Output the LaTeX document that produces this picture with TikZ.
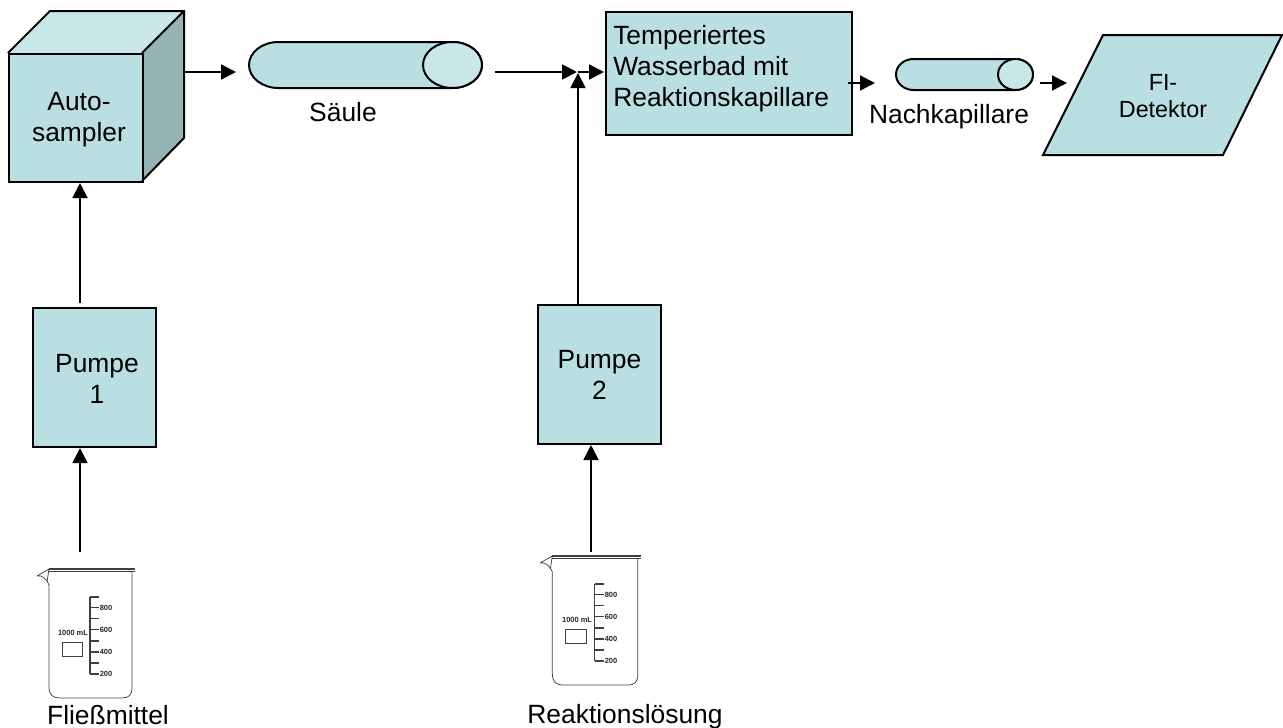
\documentclass[tikz,border=0pt]{standalone}
\usepackage{fontspec}
\setmainfont{Liberation Sans}
\usetikzlibrary{arrows.meta,shapes.geometric}
\definecolor{fillA}{HTML}{BADFE2}
\definecolor{fillL}{HTML}{C9E6E8}
\definecolor{fillD}{HTML}{95B2B5}
\tikzset{
 x=0.75pt,y=-0.75pt,
 shapeline/.style={draw=black,line width=1.5pt,line join=miter},
 flow/.style={draw=black,line width=1.4pt,-{Triangle[length=11.25pt,width=11.25pt]}},
 box/.style={shapeline,fill=fillA,inner sep=0pt},
 endcap/.style={ellipse,draw=black,line width=1.5pt,fill=fillL,inner sep=0pt},
 lbl/.style={font=\fontsize{19.8pt}{23.2pt}\selectfont,align=center,inner sep=0pt},
 lblsm/.style={font=\fontsize{17.5pt}{20.5pt}\selectfont,align=center,inner sep=0pt},
 glass/.style={draw=black!75,line width=0.55pt},
 tiny/.style={font=\fontsize{5.6pt}{6pt}\selectfont\bfseries,inner sep=0pt,text=black!85},
}
\newcommand{\beaker}[2]{%
 \begin{scope}[shift={(#1)},xscale=#2]
  \draw[glass,line width=1.1pt] (12,0) -- (98,0);
  \draw[glass] (12,2) -- (98,2);
  \draw[glass] (0,7) -- (12,0) -- (10,13) (0,7) .. controls (5,6) and (9,9) .. (12,16);
  \draw[glass] (12,16) -- (12,118) .. controls (12,126) and (16,129) .. (23,129) -- (85,129) .. controls (92,129) and (95,126) .. (95,118) -- (95,2);
  \draw[glass,line width=0.8pt] (53,28) -- (53,105);
  \foreach \yy in {28,38.5,49.5,60.5,72,83,94,105}{\draw[glass,line width=0.8pt] (53,\yy) -- (62,\yy);}
  \node[tiny] at (69,38.5) {800};
  \node[tiny] at (69,60.5) {600};
  \node[tiny] at (69,83) {400};
  \node[tiny] at (69,105) {200};
  \node[tiny] at (36,64) {1000 mL};
  \draw[glass,line width=0.7pt] (25,73) rectangle (45,87);
 \end{scope}}
\begin{document}
\begin{tikzpicture}
\useasboundingbox (0,0) rectangle (1283,728);
% cube
\fill[fillL] (8,53) -- (50,11) -- (184,11) -- (142,53) -- cycle;
\fill[fillD] (142,53) -- (184,11) -- (184,138) -- (142,181) -- cycle;
\node[box,minimum width=100.5pt,minimum height=96pt,anchor=north west] (auto) at (8,53) {};
\draw[shapeline] (8,53) -- (50,11) -- (184,11) -- (184,138) -- (142,181) (142,53) -- (184,11);
\node[lbl] (autoText) at (79,120) {Auto-\\sampler};
\coordinate (autoOut) at (184,72);
% column
\draw[shapeline,fill=fillA] (278.5,42) -- (452.5,42) .. controls (468.8,42) and (482,52.3) .. (482,65) .. controls (482,77.7) and (468.8,88) .. (452.5,88) -- (278.5,88) .. controls (262.2,88) and (249,77.7) .. (249,65) .. controls (249,52.3) and (262.2,42) .. (278.5,42) -- cycle;
\node[endcap,minimum width=44.25pt,minimum height=34.5pt] (colEnd) at (452.5,65) {};
\node[lbl] (saeule) at (343,112) {Säule};
\coordinate (colIn) at (236,72);
\coordinate (colOut) at (495,72);
\coordinate (junction) at (577,72);
\coordinate (junctionV) at (578,73);
\coordinate (junctionH) at (578,72);
% water bath
\node[box,anchor=north west,minimum width=184.5pt,minimum height=92.25pt] (bath) at (605,11) {};
\node[lbl,align=left,anchor=west] (bathText) at (613,69) {Temperiertes\\Wasserbad mit\\Reaktionskapillare};
\coordinate (bathIn) at (604,72);
\coordinate (bathOut) at (848,83);
% small column
\draw[shapeline,fill=fillA] (913.5,59) -- (1015.5,59) .. controls (1025.2,59) and (1033,65.9) .. (1033,74.5) .. controls (1033,83.1) and (1025.2,90) .. (1015.5,90) -- (913.5,90) .. controls (903.8,90) and (896,83.1) .. (896,74.5) .. controls (896,65.9) and (903.8,59) .. (913.5,59) -- cycle;
\node[endcap,minimum width=26.25pt,minimum height=23.25pt] (kapEnd) at (1015.5,74.5) {};
\node[lbl] (nachkap) at (949,117) {Nachkapillare};
\coordinate (kapIn) at (875,83);
\coordinate (kapOut) at (1040,83);
\coordinate (detIn) at (1067,83);
% detector
\draw[shapeline,fill=fillA] (1043,155) -- (1103,35) -- (1282,35) -- (1223,155) -- cycle;
\node[lblsm] (det) at (1163,96) {FI-\\Detektor};
% pumps
\node[box,anchor=north west,minimum width=92.25pt,minimum height=104.25pt] (p1) at (32,307) {};
\node[lbl] (p1Text) at (97,379) {Pumpe\\1};
\node[box,lbl,anchor=north west,minimum width=92.25pt,minimum height=104.25pt] (p2) at (537,304) {Pumpe\\2};
% beakers
\beaker{37,569}{1}
\beaker{540,556}{1.03}
\coordinate (b1) at (80,552);
\coordinate (b2) at (591,552);
\coordinate (p1Up) at (80,303);
\coordinate (p2Up) at (578,304);
\node[lbl] (fl) at (108,715) {Fließmittel};
\node[lbl] (rl) at (625,717) {Reaktionslösung};
% connectors
\draw[flow] (p1Up) -- (p1Up |- auto.south);
\draw[flow] (b1) -- (b1 |- p1.south);
\draw[flow] (b2) -- (b2 |- p2.south);
\draw[flow] (autoOut) -- (colIn);
\draw[flow] (colOut) -- (junction);
\draw[flow] (junctionH) -- (bathIn);
\draw[flow] (p2Up) -- (junctionV);
\draw[flow] (bathOut) -- (kapIn);
\draw[flow] (kapOut) -- (detIn);
\end{tikzpicture}
\end{document}
